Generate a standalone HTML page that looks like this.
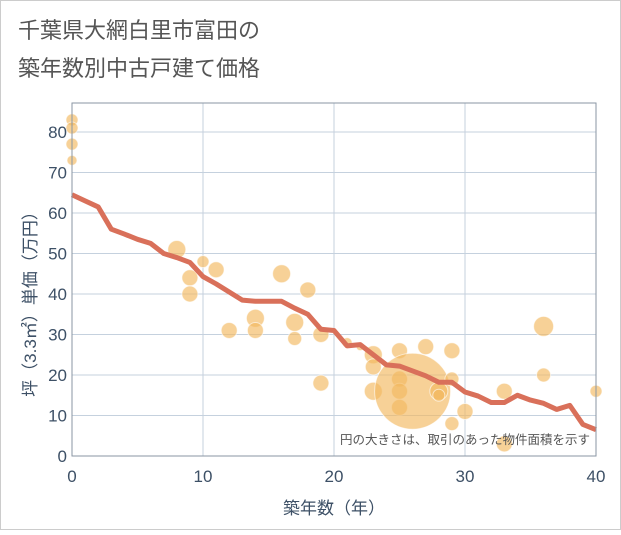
<!DOCTYPE html>
<html><head><meta charset="utf-8"><style>
body{margin:0;background:#fff;font-family:"Liberation Sans","Noto Sans CJK JP",sans-serif;}
</style></head><body>
<svg width="621" height="530" xmlns="http://www.w3.org/2000/svg" font-family="Liberation Sans, Noto Sans CJK JP, sans-serif">
<rect x="0.5" y="0.5" width="620" height="529" fill="#fff" stroke="#ccc"/>
<text x="18" y="38" font-size="22" fill="#555">千葉県大網白里市富田の</text>
<text x="18" y="76" font-size="22" fill="#555">築年数別中古戸建て価格</text>
<g id="grid"></g>
<g id="bubbles"></g>
<path id="trend" fill="none" stroke="#d9705a" stroke-width="5" stroke-linejoin="round"/>
<rect x="72" y="103" width="524" height="353" fill="none" stroke="#8a96a3"/>
<text x="590" y="444" font-size="12.5" fill="#555" text-anchor="end">円の大きさは、取引のあった物件面積を示す</text>
<text x="334" y="514" font-size="17" fill="#3d5066" text-anchor="middle">築年数（年）</text>
<text transform="translate(36,300) rotate(-90)" font-size="17" fill="#3d5066" text-anchor="middle">坪（3.3㎡）単価（万円）</text>
</svg>
<script>
const xTicks=[0,10,20,30,40];
const yTicks=[0,10,20,30,40,50,60,70,80];
const trendX=[0,1,2,3,4,5,6,7,8,9,10,11,12,13,14,15,16,17,18,19,20,21,22,23,24,25,26,27,28,29,30,31,32,33,34,35,36,37,38,39,40];
const trendY=[64.5,63,61.5,56,54.8,53.5,52.5,50,49,47.8,44.3,42.5,40.5,38.5,38.2,38.2,38.2,36.5,35,31.3,31,27.2,27.5,25,22.5,22.2,21,19.8,18.2,18.2,15.8,14.8,13.2,13.2,15,13.8,13,11.5,12.5,7.8,6.5];
const bubX=[0,0,0,0,8,9,9,10,11,12,14,14,16,17,17,18,19,19,21,22,23,23,23,25,25,25,25,26,27,28,28,29,29,29,30,33,33,36,36,40];
const bubY=[83,81,77,73,51,44,40,48,46,31,34,31,45,33,29,41,30,18,28,27,25,22,16,26,19,16,12,16,27,16,15,26,19,8,11,16,3,32,20,16];
const bubR=[6,6,6,5,9,8,8,6,8,8,9,8,9,9,7,8,8,8,5,4,9,8,9,8,8,8,8,38,8,9,6,8,7,7,8,8,8,10,7,6];
const X=v=>72+v*524/40, Y=v=>456-v*4.05;
const NS="http://www.w3.org/2000/svg", svg=document.querySelector('svg');
const grid=document.getElementById('grid');
function mk(t,a,p){const e=document.createElementNS(NS,t);for(const k in a)e.setAttribute(k,a[k]);p.appendChild(e);return e;}
xTicks.forEach(t=>{
 const l=mk('line',{x1:X(t),x2:X(t),y1:103,y2:456,stroke:'#c5d1de'},grid);
 
 
 const s=mk('text',{x:X(t),y:482,'font-size':17,fill:'#3d5066','text-anchor':'middle'},svg);
 s.textContent=t;
 
 
});
yTicks.forEach(t=>{
 const l=mk('line',{x1:72,x2:596,y1:Y(t),y2:Y(t),stroke:'#c5d1de'},grid);
 
 
 const s=mk('text',{x:67,y:Y(t)+6,'font-size':17,fill:'#3d5066','text-anchor':'end'},svg);
 s.textContent=t;
 
 
});
const bg=document.getElementById('bubbles');
bubX.forEach((x,i)=>{
 const c=mk('circle',{cx:X(x),cy:Y(bubY[i]),r:bubR[i],fill:'rgba(242,185,95,0.65)',stroke:'rgba(255,255,255,0.6)','stroke-width':1},bg);
 
 
});
document.getElementById('trend').setAttribute('d',trendX.map((x,i)=>(i?'L':'M')+X(x)+' '+Y(trendY[i])).join(''));
</script>
</body></html>
